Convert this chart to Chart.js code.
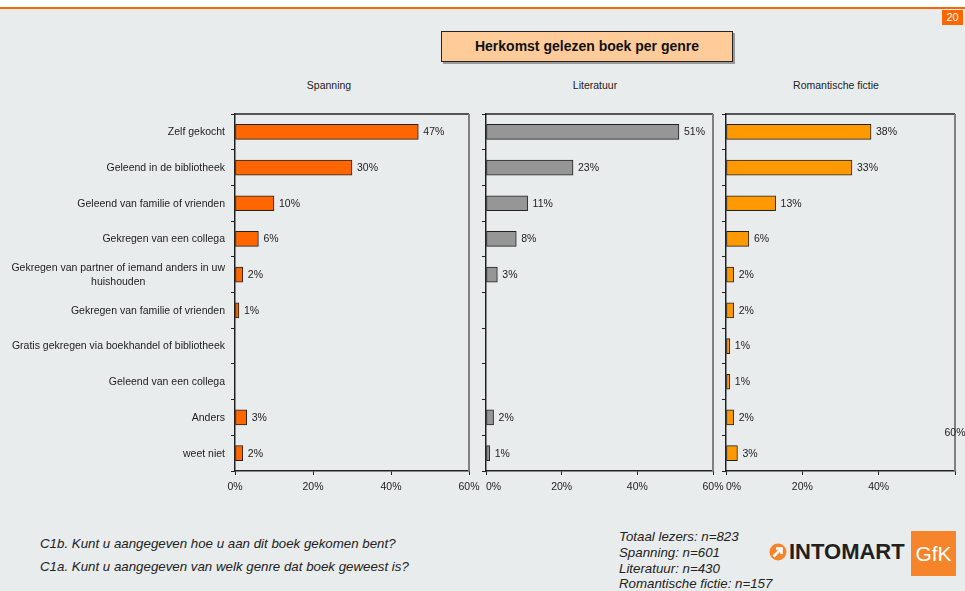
<!DOCTYPE html>
<html>
<head>
<meta charset="utf-8">
<script src="https://cdn.jsdelivr.net/npm/chart.js@4.4.0/dist/chart.umd.min.js"></script>
<style>
  html, body { margin: 0; padding: 0; }
  body { width: 965px; height: 591px; background: #e9ecec; position: relative; overflow: hidden;
         font-family: "Liberation Sans", Arial, sans-serif; color: #222; }
  .abs { position: absolute; }
  canvas { position: absolute; }
  #topband { left: 0; top: 0; width: 965px; height: 7px; background: #fff; }
  #topline { left: 0; top: 7px; width: 965px; height: 2px; background: #ff6600; }
  #pagenr { left: 942px; top: 10px; width: 21px; height: 15px; background: #ff6600; color: #fff;
            font-size: 11px; line-height: 15px; text-align: center; }
  #title { left: 441px; top: 31px; width: 292px; height: 31px; box-sizing: border-box; background: #ffcc99;
           border: 1px solid #222; box-shadow: 2px 2px 0 #9a9a9a; font-weight: bold; font-size: 14px;
           line-height: 29px; text-align: center; color: #111; }
  .ptitle { top: 77px; font-size: 10.5px; line-height: 16px; text-align: center; width: 200px; }
  .foot { font-size: 13.3px; font-style: italic; line-height: 16px; white-space: nowrap; color: #222; }
  #logo-text { left: 789px; top: 539px; font-size: 22px; font-weight: bold; color: #231f20; line-height: 26px; }
  #gfk { left: 911px; top: 531px; width: 45px; height: 45px; background: #f5842b; color: #fff;
         font-size: 21px; line-height: 45px; text-align: center; }
</style>
</head>
<body>
<div id="topband" class="abs"></div>
<div id="topline" class="abs"></div>
<div id="pagenr" class="abs">20</div>
<div id="title" class="abs">Herkomst gelezen boek per genre</div>

<div class="abs ptitle" style="left:229px">Spanning</div>
<div class="abs ptitle" style="left:495px">Literatuur</div>
<div class="abs ptitle" style="left:736px">Romantische fictie</div>

<canvas id="c1" width="485" height="400" style="left:0;top:100px"></canvas>
<canvas id="c2" width="250" height="400" style="left:476px;top:100px"></canvas>
<canvas id="c3" width="249" height="400" style="left:716px;top:100px"></canvas>

<div class="abs foot" style="left:40px;top:536px">C1b. Kunt u aangegeven hoe u aan dit boek gekomen bent?</div>
<div class="abs foot" style="left:40px;top:559px">C1a. Kunt u aangegeven van welk genre dat boek geweest is?</div>

<div class="abs foot" style="left:619px;top:529px">Totaal lezers: n=823</div>
<div class="abs foot" style="left:619px;top:545px">Spanning: n=601</div>
<div class="abs foot" style="left:619px;top:561px">Literatuur: n=430</div>
<div class="abs foot" style="left:619px;top:576px">Romantische fictie: n=157</div>

<svg class="abs" style="left:769px;top:543px" width="18" height="18" viewBox="0 0 18 18">
  <circle cx="9" cy="9" r="8.5" fill="#f5842b"/>
  <path d="M4.5 13.5 L11 7 M7 5.5 H12.5 V11" stroke="#fff" stroke-width="2.6" fill="none"/>
</svg>
<div id="logo-text" class="abs">INTOMART</div>
<div id="gfk" class="abs">GfK</div>

<script>
// herkomst van het gelezen boek, in procenten per genre (null = geen antwoorden)
const categories = [
  'Zelf gekocht',
  'Geleend in de bibliotheek',
  'Geleend van familie of vrienden',
  'Gekregen van een collega',
  ['Gekregen van partner of iemand anders in uw', 'huishouden'],
  'Gekregen van familie of vrienden',
  'Gratis gekregen via boekhandel of bibliotheek',
  'Geleend van een collega',
  'Anders',
  'weet niet'
];
const spanning   = [47, 30, 10, 6, 2, 1, null, null, 3, 2];
const literatuur = [51, 23, 11, 8, 3, null, null, null, 2, 1];
const romantisch = [38, 33, 13, 6, 2, 2, 1, 1, 2, 3];
const xTicks = [0, 20, 40, 60];

const FONT = '10.5px "Liberation Sans", Arial, sans-serif';
const INK = '#222';

// top line (dark) and right line (grey) around the plot area
const frame = {
  id: 'frame',
  afterDatasetsDraw(chart) {
    const { ctx, chartArea: a } = chart;
    ctx.save();
    ctx.strokeStyle = INK;
    ctx.lineWidth = 1.5;
    ctx.beginPath();
    ctx.moveTo(a.left, a.top);
    ctx.lineTo(a.right, a.top);
    ctx.stroke();
    ctx.strokeStyle = '#808080';
    ctx.lineWidth = 2;
    ctx.beginPath();
    ctx.moveTo(a.right, a.top);
    ctx.lineTo(a.right, a.bottom);
    ctx.stroke();
    ctx.restore();
  }
};

// percentages next to the bars
const valueLabels = {
  id: 'valueLabels',
  afterDatasetsDraw(chart) {
    const ctx = chart.ctx;
    const meta = chart.getDatasetMeta(0);
    const values = chart.data.datasets[0].data;
    ctx.save();
    ctx.font = FONT;
    ctx.fillStyle = INK;
    ctx.textAlign = 'left';
    ctx.textBaseline = 'middle';
    meta.data.forEach((bar, i) => {
      if (values[i] == null) return;
      ctx.fillText(values[i] + '%', bar.x + 5, bar.y + 0.5);
    });
    ctx.restore();
  }
};

// tick texts of both axes
const axisText = {
  id: 'axisText',
  afterDraw(chart, args, o) {
    const { ctx, chartArea: a } = chart;
    const xs = chart.scales.x, ys = chart.scales.y;
    ctx.save();
    ctx.font = FONT;
    ctx.fillStyle = INK;
    ctx.textBaseline = 'middle';
    xs.ticks.forEach((t, i) => {
      const last = i === xs.ticks.length - 1;
      let px = xs.getPixelForValue(t.value);
      let py = a.bottom + 16;
      ctx.textAlign = 'center';
      if (i === 0 && o.firstStart) ctx.textAlign = 'left';
      if (last && o.lastRaised) py = a.bottom - 38;
      ctx.fillText(t.value + '%', px, py);
    });
    if (o.categories) {
      const right = a.left - 10;
      chart.data.labels.forEach((lab, i) => {
        const lines = Array.isArray(lab) ? lab : [lab];
        const py = ys.getPixelForValue(i);
        const w = Math.max(...lines.map(l => ctx.measureText(l).width));
        ctx.textAlign = 'center';
        lines.forEach((l, k) => {
          ctx.fillText(l, right - w / 2, py + 0.5 + (k - (lines.length - 1) / 2) * 14);
        });
      });
    }
    ctx.restore();
  }
};

function panel(id, values, color, yWidth, padding, text) {
  return new Chart(document.getElementById(id), {
    type: 'bar',
    data: {
      labels: categories,
      datasets: [{
        data: values,
        backgroundColor: color,
        borderColor: INK,
        borderWidth: 1,
        borderSkipped: false,
        barThickness: 15
      }]
    },
    options: {
      indexAxis: 'y',
      responsive: false,
      animation: false,
      layout: { padding: padding },
      plugins: {
        legend: { display: false },
        tooltip: { enabled: false },
        axisText: text
      },
      scales: {
        x: {
          min: 0,
          max: 60,
          afterBuildTicks: s => { s.ticks = xTicks.map(v => ({ value: v })); },
          ticks: { display: false },
          grid: { drawOnChartArea: false, drawTicks: true, tickLength: 4, color: INK },
          border: { display: true, color: INK, width: 1.5 },
          afterFit: s => { s.height = 20; s.paddingLeft = 0; s.paddingRight = 0; }
        },
        y: {
          ticks: { display: false },
          grid: { drawOnChartArea: false, drawTicks: true, tickLength: 4, color: INK, offset: true },
          border: { display: true, color: INK, width: 1.5 },
          afterFit: s => { s.width = yWidth; s.paddingTop = 0; s.paddingBottom = 0; }
        }
      }
    },
    plugins: [frame, valueLabels, axisText]
  });
}

panel('c1', spanning, '#ff6600', 235, { left: 0, right: 16, top: 14, bottom: 9 }, { categories: true });
panel('c2', literatuur, '#969696', 10, { left: 0, right: 13, top: 14, bottom: 9 }, { firstStart: true });
panel('c3', romantisch, '#ff9900', 10, { left: 0, right: 10, top: 14, bottom: 9 }, { firstStart: true, lastRaised: true });
</script>
</body>
</html>
